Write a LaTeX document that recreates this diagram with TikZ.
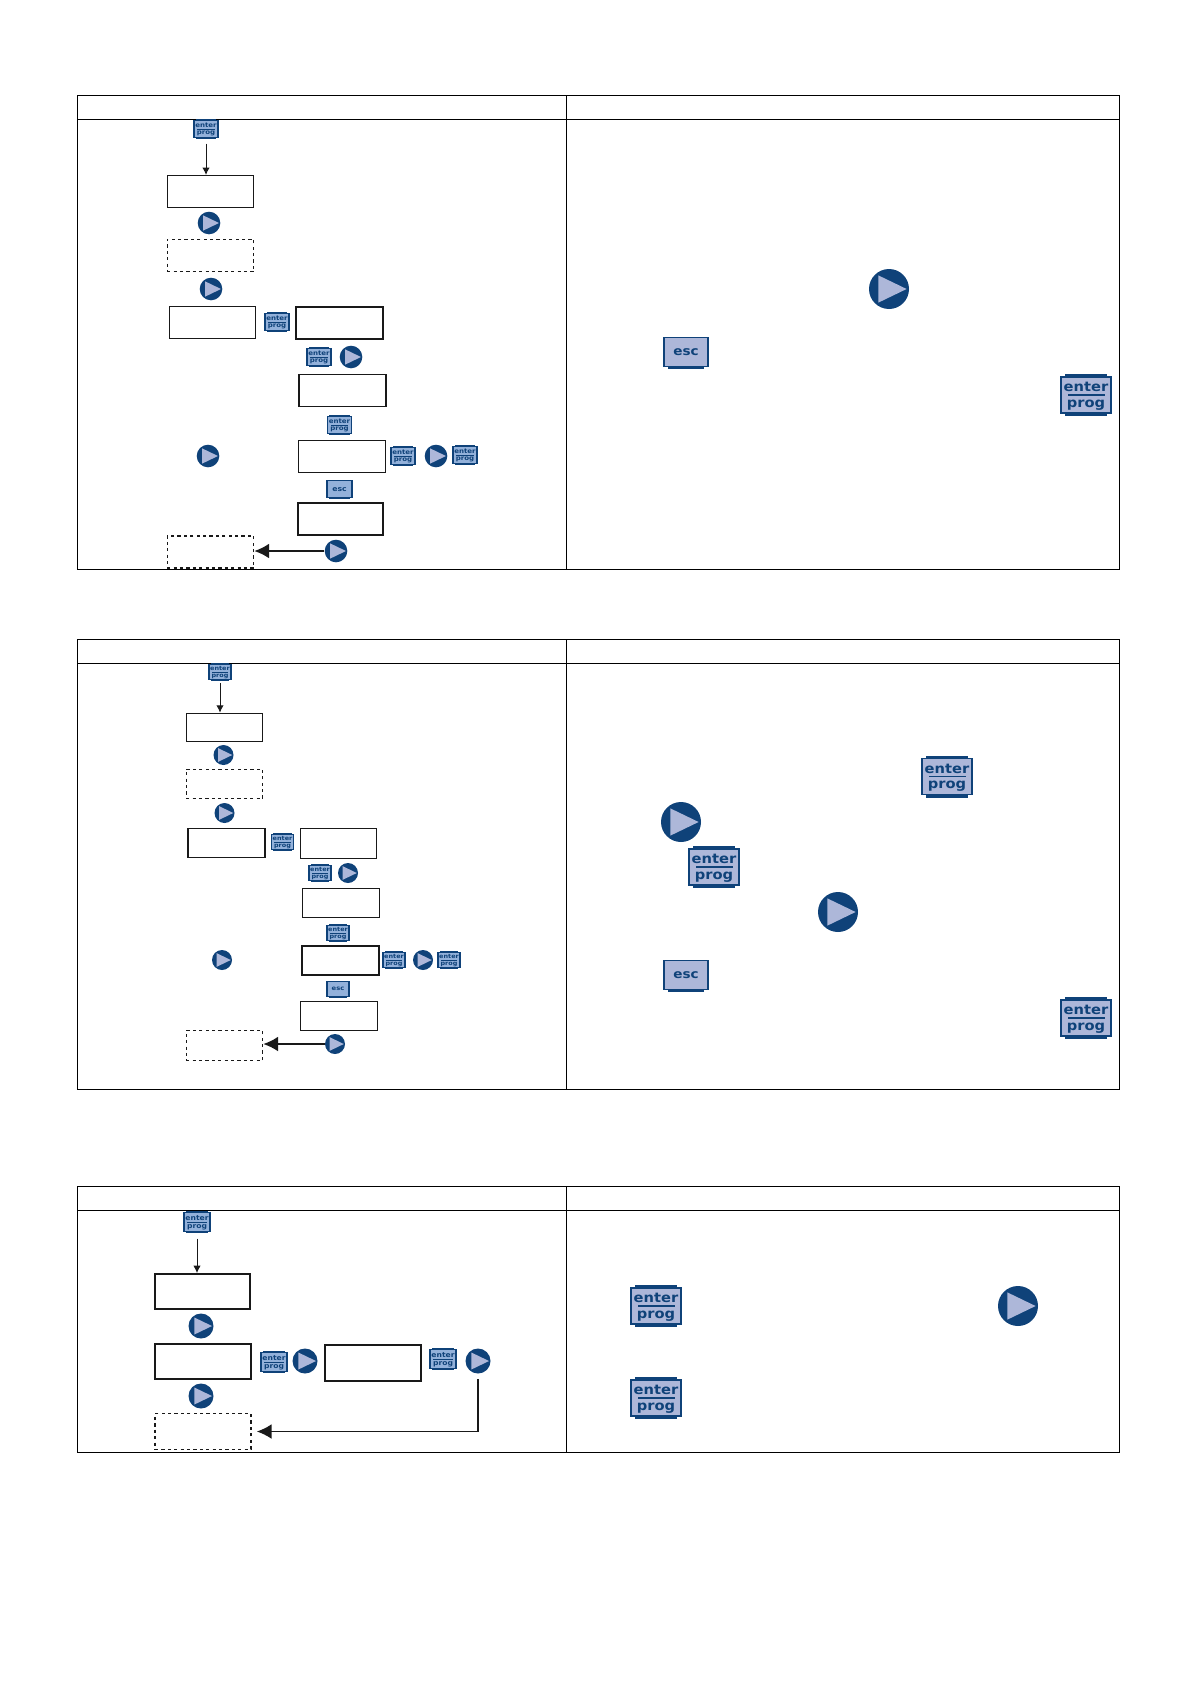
\documentclass[tikz,border=0pt]{standalone}
\usepackage{fontspec}
\newfontfamily\keyfont[FakeStretch=1.1]{DejaVu Sans}
\usetikzlibrary{arrows.meta,calc}
\definecolor{navy}{HTML}{0F4279}
\definecolor{keybig}{HTML}{ADB7D9}
\definecolor{keysmall}{HTML}{93B1DA}
\definecolor{playlight}{HTML}{ADB7D9}
\tikzset{
 tbl/.style={draw=black,line width=.7pt},
 solidbox/.style={draw=black!90,line width=.8pt,rectangle,inner sep=0pt},
 thickbox/.style={draw=black!90,line width=1.2pt,rectangle,inner sep=0pt},
 dashbox/.style={draw=black!90,line width=.8pt,dash pattern=on 2.4pt off 2.4pt,rectangle,inner sep=0pt},
 smallarrow/.style={draw=black!90,line width=.7pt,-{Latex[length=5.5pt,width=5.5pt]}},
 bigarrow/.style={draw=black!90,line width=1pt,-{Latex[length=11pt,width=11pt]}},
 keytext/.style={inner sep=0pt,text=navy},
}
% optional fill; name; x; y; width in px
\newcommand\enterkey[5][keysmall]{%
 \pgfmathsetmacro\kw{#5*.75}\pgfmathsetmacro\fs{#5*.2}%
 \begin{scope}[shift={(#3,#4)},x=\kw pt,y=-\kw pt]
  \fill[navy] (-.42,-.42) rectangle (.42,.42);
  \node[draw=navy,fill=#1,line width=.85pt,rectangle,inner sep=0pt,minimum width=\kw pt,minimum height=.72*\kw pt] (#2) at (0,0) {};
  \node[keytext,font=\fontsize{\fs}{\fs}\keyfont\bfseries] (#2e) at (0,-.155) {enter};
  \node[keytext,font=\fontsize{\fs}{\fs}\keyfont\bfseries] (#2p) at (0,.195) {prog};
  \fill[navy] (-.37,-.016) rectangle (.37,.016);
 \end{scope}}
\newcommand\esckey[5][keysmall]{%
 \pgfmathsetmacro\kw{#5*.75}\pgfmathsetmacro\fs{#5*.21}%
 \begin{scope}[shift={(#3,#4)},x=\kw pt,y=-\kw pt]
  \fill[navy] (-.41,0) rectangle (.41,.39);
  \node[draw=navy,fill=#1,line width=.85pt,rectangle,inner sep=0pt,minimum width=\kw pt,minimum height=.67*\kw pt] (#2) at (0,0) {};
  \node[keytext,font=\fontsize{\fs}{\fs}\keyfont\bfseries] (#2e) at (0,.01) {esc};
 \end{scope}}
\newcommand\playbtn[4]{%
 \pgfmathsetmacro\kw{#4*.75}%
 \begin{scope}[shift={(#2,#3)},x=\kw pt,y=-\kw pt]
  \node[circle,fill=navy,inner sep=0pt,minimum size=2*\kw pt] (#1) at (0,0) {};
  \fill[playlight] (-.53,-.68) -- (.88,0) -- (-.53,.68) -- cycle;
 \end{scope}}
\begin{document}
\begin{tikzpicture}[x=.75pt,y=-.75pt]
\useasboundingbox (0,0) rectangle (1190,1684);
% tables
\draw[tbl] (77.5,95.5) rectangle (1119.5,569.5) (77.5,119.5) -- (1119.5,119.5) (566.5,95.5) -- (566.5,569.5);
\draw[tbl] (77.5,639.5) rectangle (1119.5,1089.5) (77.5,663.5) -- (1119.5,663.5) (566.5,639.5) -- (566.5,1089.5);
\draw[tbl] (77.5,1186.5) rectangle (1119.5,1452.5) (77.5,1210.5) -- (1119.5,1210.5) (566.5,1186.5) -- (566.5,1452.5);
% --- table 1
\enterkey{a1}{206}{129}{24}
\node[solidbox,minimum width=65pt,minimum height=24pt] (ab1) at (210.5,191.5) {};
\playbtn{ac1}{209}{223}{11.3}
\node[dashbox,minimum width=65pt,minimum height=24.5pt] (ad1) at (210.5,255.5) {};
\playbtn{ac2}{211}{289}{11.3}
\node[solidbox,minimum width=65pt,minimum height=24pt] (ab2) at (212.5,322.5) {};
\enterkey{a2}{277}{322}{24}
\node[thickbox,minimum width=65pt,minimum height=24pt] (ab3) at (339.5,323) {};
\enterkey{a3}{319}{357}{24}
\playbtn{ac3}{351}{357}{11.3}
\node[thickbox,minimum width=65pt,minimum height=24pt] (ab4) at (342.5,390.5) {};
\enterkey{a4}{339.5}{425}{24}
\playbtn{ac4}{208}{456}{11.3}
\node[thickbox,minimum width=65pt,minimum height=24pt] (ab5) at (342,456.5) {};
\enterkey{a5}{403}{456}{24}
\playbtn{ac5}{436}{456}{11.3}
\enterkey{a6}{465}{455}{24}
\esckey{a7}{339.5}{489}{25}
\node[thickbox,minimum width=64pt,minimum height=24pt] (ab6) at (340.5,519) {};
\node[dashbox,minimum width=65pt,minimum height=24pt] (ad2) at (210.5,552) {};
\playbtn{ac6}{336}{551}{11.3}
\draw[smallarrow,shorten <=4pt] (a1.south) -- (a1.south |- ab1.north);
\draw[bigarrow] (ac6.west) -- (ac6.west -| ad2.east);
\playbtn{ac7}{889}{289}{20}
\esckey[keybig]{a8}{686}{352}{44}
\enterkey[keybig]{a9}{1086}{395}{50}
% --- table 2
\enterkey{b1}{220}{672}{22}
\node[solidbox,minimum width=57.5pt,minimum height=21.5pt] (bb1) at (224.5,727.5) {};
\playbtn{bc1}{223.5}{755}{10}
\node[dashbox,minimum width=57.5pt,minimum height=22pt] (bd1) at (224.5,784) {};
\playbtn{bc2}{224.5}{813}{10}
\node[thickbox,minimum width=57.5pt,minimum height=22pt] (bb2) at (226.5,843) {};
\enterkey{b2}{282.5}{842}{22}
\node[solidbox,minimum width=57.5pt,minimum height=22pt] (bb3) at (338.5,843.5) {};
\enterkey{b3}{320}{873}{22}
\playbtn{bc3}{348}{873}{10}
\node[thickbox,minimum width=57.5pt,minimum height=22pt] (bb4) at (341,903) {};
\enterkey{b4}{338}{933}{22}
\playbtn{bc4}{222}{960}{10}
\node[thickbox,minimum width=57.5pt,minimum height=22pt] (bb5) at (340.5,960.5) {};
\enterkey{b5}{394}{960}{22}
\playbtn{bc5}{423}{960}{10}
\enterkey{b6}{449}{960}{22}
\esckey{b7}{338}{989}{22}
\node[thickbox,minimum width=57.5pt,minimum height=22pt] (bb6) at (339,1016) {};
\node[dashbox,minimum width=57.5pt,minimum height=22pt] (bd2) at (224.5,1045.5) {};
\playbtn{bc6}{335}{1044}{10}
\draw[smallarrow,shorten <=2pt] (b1.south) -- (b1.south |- bb1.north);
\draw[bigarrow] (bc6.west) -- (bc6.west -| bd2.east);
\enterkey[keybig]{b8}{947}{776.5}{50}
\playbtn{bc7}{681}{822}{20}
\enterkey[keybig]{b9}{714}{867}{50}
\playbtn{bc8}{838}{912}{20}
\esckey[keybig]{b10}{686}{975}{44}
\enterkey[keybig]{b11}{1086}{1018}{50}
% --- table 3
\enterkey{c1}{197}{1222}{26}
\node[thickbox,minimum width=71.5pt,minimum height=26.5pt] (cb1) at (202.5,1291.5) {};
\playbtn{cc1}{201}{1326}{12.5}
\node[thickbox,minimum width=72pt,minimum height=26.5pt] (cb2) at (203,1361.5) {};
\enterkey{c2}{274}{1362}{26}
\playbtn{cc2}{305}{1361}{12.5}
\node[solidbox,minimum width=72pt,minimum height=27pt] (cb3) at (373,1363) {};
\enterkey{c3}{443}{1359}{26}
\playbtn{cc3}{478}{1361}{12.5}
\playbtn{cc4}{201}{1396}{12.5}
\node[dashbox,minimum width=72pt,minimum height=26.5pt] (cd1) at (203,1431.5) {};
\draw[smallarrow,shorten <=5pt] (c1.south) -- (c1.south |- cb1.north);
\draw[bigarrow,shorten <=4pt,shorten >=4pt] (cc3.south) |- (cd1.east);
\enterkey[keybig]{c4}{656}{1306}{50}
\playbtn{cc5}{1018}{1306}{20}
\enterkey[keybig]{c5}{656}{1398}{50}
\end{tikzpicture}
\end{document}
